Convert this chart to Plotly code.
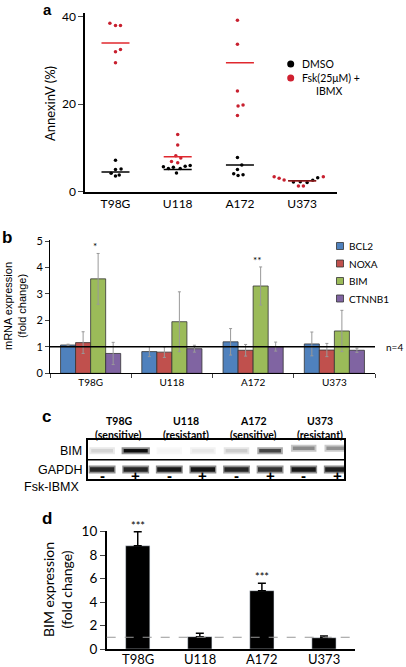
import plotly.graph_objects as go

W, H = 406, 667

def px(x):
    return x / W

def py(y):
    return 1 - y / H

# ---------------- Panel a data ----------------
cells = ["T98G", "U118", "A172", "U373"]

t98g_dmso = [7.2, 5.1, 5.2, 4.2, 3.6, 3.8]
t98g_fsk = [38.5, 38.0, 38.0, 32.0, 32.5, 29.5]
u118_dmso = [5.7, 5.3, 5.6, 5.3, 5.8, 6.0, 4.3]
u118_fsk = [13.1, 10.7, 8.2, 7.7, 6.9, 6.6]
a172_dmso = [7.8, 6.1, 5.1, 4.1, 3.7, 3.9]
a172_fsk = [39.2, 33.7, 23.0, 19.6, 19.8, 17.4]
u373_dmso = [2.2, 2.3, 2.1, 2.6, 3.2]
u373_fsk = [3.4, 3.1, 2.7, 1.3, 1.3, 3.4]

dmso_mean = [4.5, 5.1, 6.1, 2.5]
fsk_mean = [34.0, 8.0, 29.5, 2.5]

# horizontal jitter (category units)
t98g_dmso_jit = [0, 0, 0.09, -0.07, 0, 0.06]
t98g_fsk_jit = [-0.09, 0, 0.08, 0, 0.08, 0]
u118_dmso_jit = [-0.23, -0.15, -0.07, 0.04, 0.12, 0.2, -0.02]
u118_fsk_jit = [0, 0, -0.03, 0.05, -0.1, 0]
a172_dmso_jit = [-0.04, 0.03, -0.04, -0.1, -0.03, 0.05]
a172_fsk_jit = [-0.04, -0.04, -0.04, -0.03, 0.05, -0.04]
u373_dmso_jit = [-0.14, -0.03, 0.08, 0.17, 0.25]
u373_fsk_jit = [-0.45, -0.37, -0.29, -0.06, 0.02, 0.34]

# ---------------- Panel b data ----------------
genes = ["BCL2", "NOXA", "BIM", "CTNNB1"]
bcl2 = [1.07, 0.82, 1.19, 1.11]
bcl2_err = [0.03, 0.19, 0.5, 0.45]
noxa = [1.16, 0.80, 0.87, 0.88]
noxa_err = [0.41, 0.2, 0.22, 0.25]
bim = [3.57, 1.95, 3.30, 1.60]
bim_err = [0.96, 1.13, 0.72, 0.78]
ctnnb1 = [0.75, 0.93, 1.01, 0.87]
ctnnb1_err = [0.42, 0.13, 0.17, 0.08]
b_stars = ["*", "", "**", ""]

# ---------------- Panel c data ----------------
lanes = [1, 2, 3, 4, 5, 6, 7, 8]
treatment = ["-", "+", "-", "+", "-", "+", "-", "+"]
c_headers = ["T98G", "U118", "A172", "U373"]
c_status = ["(sensitive)", "(resistant)", "(sensitive)", "(resistant)"]
bim_band = [0.15, 0.95, 0.02, 0.07, 0.18, 0.72, 0.45, 0.42]
gapdh_band = [0.85, 0.85, 0.9, 0.92, 0.85, 0.8, 0.9, 0.88]

# ---------------- Panel d data ----------------
bim_fold = [8.8, 1.05, 4.97, 0.96]
bim_fold_err = [1.2, 0.3, 0.63, 0.14]
d_stars = ["***", "", "***", ""]

fig = go.Figure()

RED = "#c8202f"
REDLINE = "#e0282e"

# ---- panel a traces ----
groups_a = [
    (t98g_dmso, t98g_dmso_jit, t98g_fsk, t98g_fsk_jit),
    (u118_dmso, u118_dmso_jit, u118_fsk, u118_fsk_jit),
    (a172_dmso, a172_dmso_jit, a172_fsk, a172_fsk_jit),
    (u373_dmso, u373_dmso_jit, u373_fsk, u373_fsk_jit),
]
for i, (dv, dj, fv, fj) in enumerate(groups_a):
    fig.add_trace(go.Scatter(x=[i + j for j in fj], y=fv, mode="markers",
                             marker=dict(color=RED, size=3.5), xaxis="x", yaxis="y",
                             showlegend=False, hoverinfo="skip"))
    fig.add_trace(go.Scatter(x=[i + j for j in dj], y=dv, mode="markers",
                             marker=dict(color="black", size=3.5), xaxis="x", yaxis="y",
                             showlegend=False, hoverinfo="skip"))
    fig.add_trace(go.Scatter(x=[i - 0.225, i + 0.225], y=[fsk_mean[i]] * 2, mode="lines",
                             line=dict(color=REDLINE, width=1.5), xaxis="x", yaxis="y",
                             showlegend=False, hoverinfo="skip"))
    fig.add_trace(go.Scatter(x=[i - 0.225, i + 0.225], y=[dmso_mean[i]] * 2, mode="lines",
                             line=dict(color="#7a1a1a" if i == 3 else "black", width=1.5),
                             xaxis="x", yaxis="y", showlegend=False, hoverinfo="skip"))

# ---- panel b traces ----
bcolors = ["#4f81bd", "#c0504d", "#9bbb59", "#8064a2"]
for name, vals, errs, col in zip(genes, [bcl2, noxa, bim, ctnnb1],
                                 [bcl2_err, noxa_err, bim_err, ctnnb1_err], bcolors):
    fig.add_trace(go.Bar(x=cells, y=vals, name=name, marker=dict(color=col, line=dict(color="#333333", width=0.8)),
                         error_y=dict(type="data", array=errs, color="#999999", thickness=1, width=1.5),
                         xaxis="x2", yaxis="y2", showlegend=False, hoverinfo="skip"))

# ---- panel c traces (blot bands) ----
def gray(v):
    g = int(round(250 * (1 - v)))
    return f"rgb({g},{g},{g})"

for lane, a_int, g_int in zip(lanes, bim_band, gapdh_band):
    hw = 0.42 if lane == 2 else 0.38
    yb = 1.58 if lane >= 7 else 1.45
    fig.add_trace(go.Scatter(x=[lane - hw, lane + hw], y=[yb, yb], mode="lines",
                             line=dict(color=gray(a_int * 0.45), width=7), xaxis="x3", yaxis="y3",
                             showlegend=False, hoverinfo="skip"))
    fig.add_trace(go.Scatter(x=[lane - hw * 0.85, lane + hw * 0.85], y=[yb, yb], mode="lines",
                             line=dict(color=gray(a_int), width=3.5), xaxis="x3", yaxis="y3",
                             showlegend=False, hoverinfo="skip"))
    fig.add_trace(go.Scatter(x=[lane - 0.4, lane + 0.4], y=[0.5, 0.5], mode="lines",
                             line=dict(color=gray(g_int * 0.5), width=8), xaxis="x3", yaxis="y3",
                             showlegend=False, hoverinfo="skip"))
    fig.add_trace(go.Scatter(x=[lane - 0.36, lane + 0.36], y=[0.5, 0.5], mode="lines",
                             line=dict(color=gray(g_int), width=4.5), xaxis="x3", yaxis="y3",
                             showlegend=False, hoverinfo="skip"))

# ---- panel d traces ----
fig.add_trace(go.Bar(x=cells, y=bim_fold, width=0.39, marker=dict(color="black"),
                     error_y=dict(type="data", symmetric=False, array=bim_fold_err,
                                  arrayminus=[0] * 4, color="black", thickness=1.5, width=4),
                     xaxis="x4", yaxis="y4", showlegend=False, hoverinfo="skip"))

FONT = "Lato"
ARIAL = "Liberation Sans"

axis_common = dict(showgrid=False, zeroline=False, linecolor="black", fixedrange=True)

fig.update_layout(
    width=W, height=H, margin=dict(l=0, r=0, t=0, b=0, autoexpand=False),
    paper_bgcolor="white", plot_bgcolor="rgba(0,0,0,0)",
    barmode="group", bargap=0.26, bargroupgap=0,
    font=dict(family=FONT, color="black"),
    xaxis=dict(domain=[px(85), px(337)], range=[-0.49, 3.56], tickmode="array",
               tickvals=[0, 1, 2, 3], ticktext=cells, ticks="", showline=True, linewidth=1.5,
               tickfont=dict(size=12, family=FONT), anchor="y", **axis_common),
    yaxis=dict(domain=[py(191.7), py(13.2)], range=[0, 40.8], tickvals=[0, 20, 40],
               ticks="outside", ticklen=5, showline=True, linewidth=1.5,
               tickfont=dict(size=12, family=FONT), anchor="x", **axis_common),
    xaxis2=dict(domain=[px(50), px(375)], type="category", ticks="outside", tickson="boundaries",
                ticklen=4, showline=True, linewidth=1, tickfont=dict(size=10, family=FONT),
                anchor="y2", **axis_common),
    yaxis2=dict(domain=[py(373.3), py(239.7)], range=[0, 5.05], tickvals=[0, 1, 2, 3, 4, 5],
                ticks="outside", ticklen=4, showline=True, linewidth=1,
                tickfont=dict(size=11, family=FONT), anchor="x2", **axis_common),
    xaxis3=dict(domain=[px(88), px(344)], range=[0.58, 8.2], showticklabels=False, ticks="",
                showline=True, linewidth=1.5, mirror=True, anchor="y3", **axis_common),
    yaxis3=dict(domain=[py(479.3), py(440)], range=[0, 2], showticklabels=False, ticks="",
                showline=True, linewidth=1.5, mirror=True, anchor="x3", **axis_common),
    xaxis4=dict(domain=[px(106.7), px(355)], type="category", ticks="", showline=True,
                linewidth=1.5, showticklabels=False, anchor="y4", **axis_common),
    yaxis4=dict(domain=[py(649), py(531)], range=[0, 10.06], tickvals=[0, 2, 4, 6, 8, 10],
                ticks="outside", ticklen=5, showline=True, linewidth=1.5,
                tickfont=dict(size=13.5, family=FONT), anchor="x4", **axis_common),
)

shapes = []
annotations = []

def ann(text, x, y, size, family=FONT, bold=False, xanchor="center", yanchor="middle",
        angle=0, color="black"):
    if bold:
        text = f"<b>{text}</b>"
    annotations.append(dict(text=text, x=px(x), y=py(y), xref="paper", yref="paper",
                            showarrow=False, xanchor=xanchor, yanchor=yanchor,
                            textangle=angle, borderpad=0,
                            font=dict(size=size, family=family, color=color)))

# panel letters
ann("a", 47, 0, 15, family=ARIAL, bold=True, yanchor="top")
ann("b", 7, 237, 17, family=ARIAL, bold=True)
ann("c", 46, 416, 17, family=ARIAL, bold=True)
ann("d", 47, 518, 17, family=ARIAL, bold=True)

# panel a
ann("AnnexinV (%)", 50, 104, 13, angle=-90)
shapes.append(dict(type="circle", xref="paper", yref="paper", x0=px(287.2), x1=px(294.2),
                   y0=py(67.5), y1=py(60.5), fillcolor="black", line=dict(width=0)))
shapes.append(dict(type="circle", xref="paper", yref="paper", x0=px(287.2), x1=px(294.2),
                   y0=py(81.5), y1=py(74.5), fillcolor="#d02030", line=dict(width=0)))
ann("DMSO", 301, 64, 10.5, xanchor="left")
ann("Fsk(25μM) +", 301, 78, 10.5, xanchor="left")
ann("IBMX", 315, 91, 10.5, xanchor="left")

# panel b
ann("mRNA expression<br>(fold change)", 15, 306, 11, family=ARIAL, angle=-90)
ann("n=4", 404, 347, 10, xanchor="right")
shapes.append(dict(type="line", xref="x2 domain", yref="y2", x0=0, x1=1, y0=1, y1=1,
                   line=dict(color="black", width=1.5)))
for i, (name, col) in enumerate(zip(genes, bcolors)):
    yy = 246 + i * 17.5
    shapes.append(dict(type="rect", xref="paper", yref="paper", x0=px(336.5), x1=px(343.5),
                       y0=py(yy + 3.5), y1=py(yy - 3.5), fillcolor=col,
                       line=dict(color="#333333", width=0.8)))
    ann(name, 348, yy, 10, xanchor="left")
for i, s in enumerate(b_stars):
    if s:
        annotations.append(dict(text=s, x=cells[i], y=bim[i] + bim_err[i], xref="x2", yref="y2",
                                showarrow=False, yanchor="bottom", xshift=4, yshift=-1,
                                font=dict(size=10, family=FONT)))

# panel c
shapes.append(dict(type="line", xref="x3 domain", yref="y3", x0=0, x1=1, y0=1, y1=1,
                   line=dict(color="black", width=1.5)))
ann("BIM", 83, 451, 12.5, family=ARIAL, xanchor="right")
ann("GAPDH", 83, 469.5, 12.5, family=ARIAL, xanchor="right")
ann("Fsk-IBMX", 81, 487, 12.5, family=ARIAL, xanchor="right")
for i, (h, s) in enumerate(zip(c_headers, c_status)):
    annotations.append(dict(text=f"<b>{h}</b>", x=2 * i + 1.5, y=py(421), xref="x3", yref="paper",
                            showarrow=False, font=dict(size=10.5, family=FONT)))
    annotations.append(dict(text=f"<b>{s}</b>", x=2 * i + 1.5, y=py(434.5), xref="x3", yref="paper",
                            showarrow=False, font=dict(size=10.5, family=FONT)))
for lane, t in zip(lanes, treatment):
    annotations.append(dict(text=f"<b>{t}</b>", x=lane, y=py(486), xref="x3", yref="paper",
                            showarrow=False, font=dict(size=15, family=ARIAL)))

# panel d
ann("BIM expression<br>(fold change)", 57, 590, 14, angle=-90)
shapes.append(dict(type="line", xref="x4 domain", yref="y4", x0=0, x1=1, y0=1, y1=1,
                   line=dict(color="#999999", width=1, dash="dash")))
for i, s in enumerate(d_stars):
    if s:
        annotations.append(dict(text=s, x=cells[i], y=bim_fold[i] + bim_fold_err[i], xref="x4", yref="y4",
                                showarrow=False, yanchor="bottom", yshift=-2,
                                font=dict(size=11, family=FONT)))
for c in cells:
    annotations.append(dict(text=c, x=c, y=0, xref="x4", yref="paper", showarrow=False,
                            yanchor="bottom", yshift=-1, borderpad=0,
                            font=dict(size=13, family=FONT)))

fig.update_layout(shapes=shapes, annotations=annotations)

fig.write_html("out.html", config={"displayModeBar": False},
               post_script="document.body.style.margin='0';document.body.style.overflow='hidden';")
